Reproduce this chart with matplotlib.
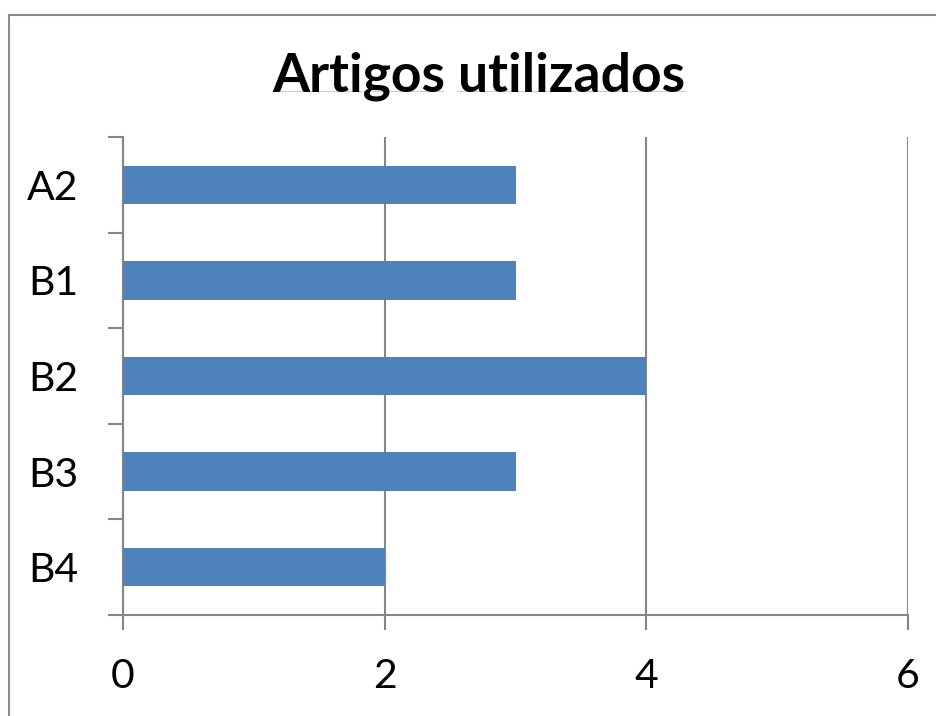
import matplotlib
matplotlib.use("Agg")
import matplotlib.pyplot as plt
from matplotlib.patches import Rectangle
from matplotlib.lines import Line2D

categories = ["A2", "B1", "B2", "B3", "B4"]
values = [3, 3, 4, 3, 2]
xticks = [0, 2, 4, 6]
title = "Artigos utilizados"

plt.rcParams['font.family'] = ['Lato', 'DejaVu Sans']

W, H = 936, 716
fig = plt.figure(figsize=(W / 100, H / 100), dpi=100)
fig.patch.set_facecolor("white")

# outer chart border
fig.add_artist(Rectangle((9 / W, -0.1), 1.2, 1 - 15 / H + 0.1,
                         transform=fig.transFigure, fill=False,
                         edgecolor="#8c8c8c", linewidth=1.5))

ax = fig.add_axes([123 / W, 1 - 615 / H, (908 - 123) / W, (615 - 137) / H])

n = len(categories)
ypos = list(range(n))[::-1]
ax.barh(ypos, values, height=0.4, color="#4f81bd", zorder=3)

ax.set_xlim(0, 6)
ax.set_ylim(-0.5, n - 0.5)

ax.set_xticks(xticks)
ax.set_xticklabels([str(t) for t in xticks], fontsize=29.5)
ax.tick_params(axis="x", direction="out", length=11, width=1.5, color="#868686", pad=20)

ax.set_yticks([i - 0.5 for i in range(n + 1)])
ax.set_yticklabels([])
ax.tick_params(axis="y", which="major", direction="out", length=11, width=1.5, color="#868686")
ax.set_yticks(ypos, minor=True)
ax.set_yticklabels(categories, minor=True, fontsize=29.5)
ax.tick_params(axis="y", which="minor", length=0, pad=32)

ax.grid(axis="x", color="#868686", linewidth=1.5, zorder=0)
for s in ["top", "right"]:
    ax.spines[s].set_visible(False)
for s in ["left", "bottom"]:
    ax.spines[s].set_color("#868686")
    ax.spines[s].set_linewidth(1.5)

fig.text((273 + 685) / 2 / W, 1 - 76 / H, title, ha="center", va="center",
         fontsize=38.5, fontweight="bold")

# faint spell-check underline beneath the title words
for x0, x1 in [(273, 443), (457, 685)]:
    fig.add_artist(Line2D([x0 / W, x1 / W], [1 - 91 / H, 1 - 91 / H],
                          transform=fig.transFigure, color="#f4a0a0",
                          linewidth=0.8, alpha=0.7))

fig.savefig("out.png", dpi=100)
